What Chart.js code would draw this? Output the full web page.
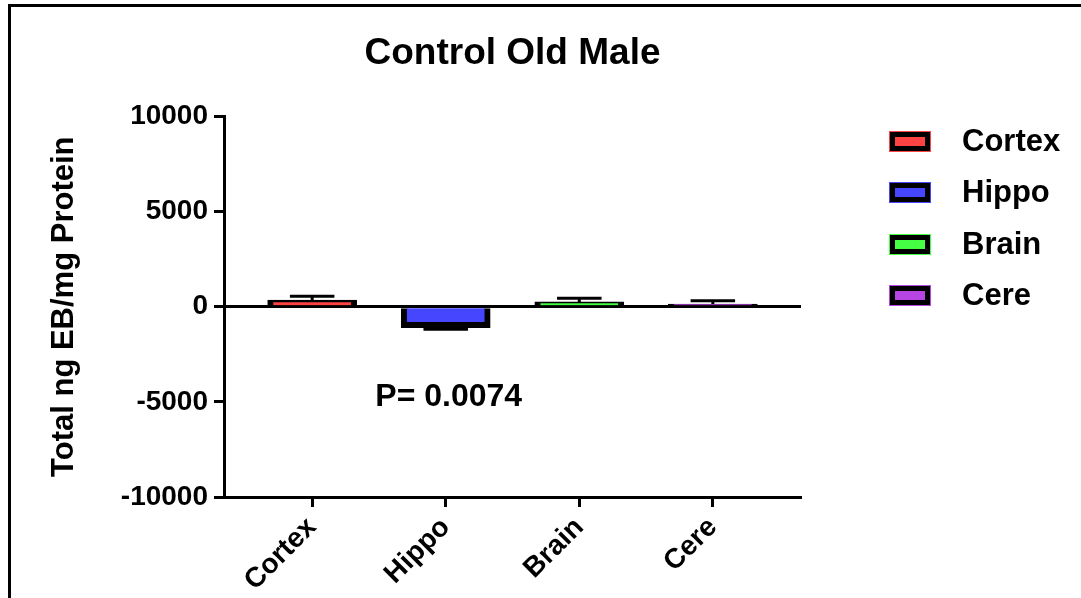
<!DOCTYPE html>
<html><head><meta charset="utf-8">
<script src="https://cdn.jsdelivr.net/npm/chart.js@4"></script>
<style>html,body{margin:0;padding:0;background:#fff}#wrap{width:1081px;height:598px}</style>
</head><body><div id="wrap"><canvas id="c" width="1081" height="598"></canvas></div>
<script>
const categories = ['Cortex', 'Hippo', 'Brain', 'Cere'];
const meanValues = [350, -1100, 250, 140];
const errorValues = [200, 80, 190, 175];
const barColors = ['#FF4343', '#4646FF', '#45FF45', '#B745E4'];
const yTicks = [-10000, -5000, 0, 5000, 10000];
const chartTitle = 'Control Old Male';
const yTitle = 'Total ng EB/mg Protein';
const pLabel = 'P= 0.0074';
const pLabelAt = [1, -4750];

const FAMILY = "'Liberation Sans', Arial, sans-serif";

const framePlugin = {
  id: 'frame',
  beforeDraw(chart) {
    const ctx = chart.ctx;
    ctx.save();
    ctx.fillStyle = '#fff';
    ctx.fillRect(0, 0, chart.width, chart.height);
    ctx.strokeStyle = '#000';
    ctx.lineWidth = 3;
    ctx.strokeRect(9.5, 5.5, 2000, 2000);
    ctx.restore();
  }
};

const errorBarPlugin = {
  id: 'errorBars',
  afterDatasetsDraw(chart) {
    const ctx = chart.ctx;
    const ys = chart.scales.y;
    const meta = chart.getDatasetMeta(0);
    ctx.save();
    ctx.strokeStyle = '#000';
    ctx.lineWidth = 3;
    meta.data.forEach((bar, i) => {
      const v = meanValues[i], e = errorValues[i];
      const end = v >= 0 ? v + e : v - e;
      const x = bar.x;
      const y0 = ys.getPixelForValue(v);
      const y1 = ys.getPixelForValue(end);
      const half = bar.width / 4;
      ctx.beginPath();
      ctx.moveTo(x, y0);
      ctx.lineTo(x, y1);
      ctx.moveTo(x - half, y1);
      ctx.lineTo(x + half, y1);
      ctx.stroke();
    });
    ctx.restore();
  }
};

const annotationPlugin = {
  id: 'annot',
  afterDraw(chart) {
    const ctx = chart.ctx;
    ctx.save();
    ctx.fillStyle = '#000';
    ctx.font = "bold 32px " + FAMILY;
    ctx.textAlign = 'center';
    ctx.textBaseline = 'middle';
    ctx.fillText(pLabel, chart.scales.x.getPixelForValue(pLabelAt[0]) + 3, chart.scales.y.getPixelForValue(pLabelAt[1]));
    ctx.font = "bold 31px " + FAMILY;
    ctx.textAlign = 'left';
    categories.forEach((name, i) => {
      const cy = 141 + i * 51.5;
      const x0 = 889, w = 42, h = 21;
      const top = Math.round(cy - h / 2);
      ctx.fillStyle = barColors[i];
      ctx.fillRect(x0, top, w, h);
      ctx.fillStyle = '#000';
      ctx.fillRect(x0 + 1, top + 1, w - 2, h - 2);
      ctx.fillStyle = barColors[i];
      ctx.fillRect(x0 + 6, top + 6, w - 12, h - 12);
      ctx.fillStyle = '#000';
      ctx.fillText(name, 962, cy + 1);
    });
    ctx.restore();
  }
};

const tickFont = { family: FAMILY, size: 28, weight: 'bold' };

new Chart(document.getElementById('c'), {
  type: 'bar',
  data: {
    datasets: [{
      data: categories.map((c, i) => ({ x: i, y: meanValues[i] })),
      backgroundColor: barColors,
      borderColor: '#000',
      borderWidth: 6,
      borderSkipped: 'start',
      barThickness: 89
    }]
  },
  options: {
    responsive: false,
    animation: false,
    devicePixelRatio: 1,
    layout: { padding: { left: 0, right: 280, top: 0, bottom: 0 } },
    plugins: {
      legend: { display: false },
      tooltip: { enabled: false },
      title: {
        display: true, text: chartTitle, fullSize: false, color: '#000',
        font: { family: FAMILY, size: 37, weight: 'bold' },
        padding: { top: 32, bottom: 40 }
      }
    },
    scales: {
      x: {
        type: 'linear', min: -0.66, max: 3.66, offset: false,
        afterBuildTicks: s => { s.ticks = categories.map((c, i) => ({ value: i })); },
        afterFit: s => { s.height = 101; },
        border: { display: true, color: '#000', width: 3 },
        grid: { display: true, offset: false, drawOnChartArea: false, drawTicks: true, tickLength: 10, tickColor: '#000', tickWidth: 3, color: '#000' },
        ticks: {
          autoSkip: false, minRotation: 45, maxRotation: 45, padding: 4, color: '#000', font: tickFont,
          callback: v => categories[Math.round(v)]
        }
      },
      y: {
        min: -10000, max: 10000,
        afterBuildTicks: s => { s.ticks = yTicks.map(v => ({ value: v })); },
        afterFit: s => { s.width = 224; },
        border: { display: true, color: '#000', width: 3 },
        grid: {
          drawOnChartArea: true,
          color: c => (c.tick && c.tick.value === 0) ? '#000' : 'rgba(0,0,0,0)',
          lineWidth: 3, drawTicks: true, tickLength: 10, tickColor: '#000', tickWidth: 3
        },
        ticks: { color: '#000', padding: 6, font: tickFont, callback: v => String(v) },
        title: {
          display: true, text: yTitle, color: '#000',
          font: { family: FAMILY, size: 31, weight: 'bold' },
          padding: { top: 46, bottom: 0 }
        }
      }
    }
  },
  plugins: [framePlugin, errorBarPlugin, annotationPlugin]
});
</script>
</body></html>
